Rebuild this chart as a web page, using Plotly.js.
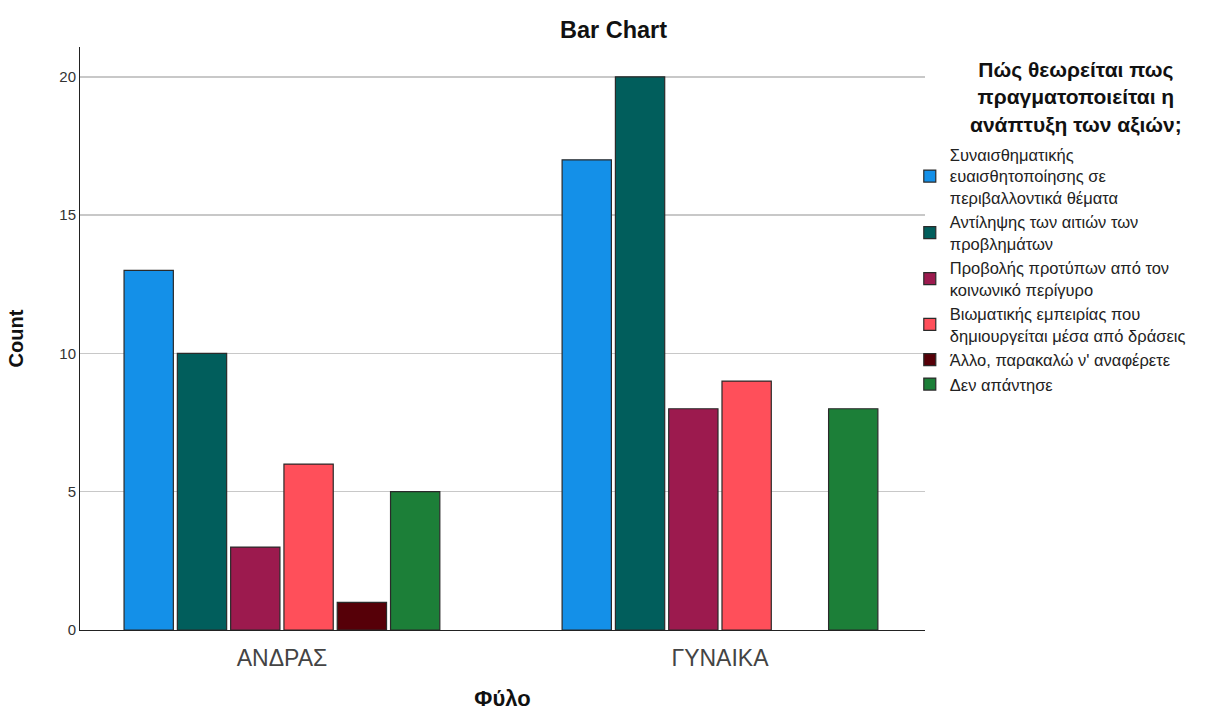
<!DOCTYPE html>
<html>
<head>
<meta charset="utf-8">
<script src="https://cdn.plot.ly/plotly-3.0.1.min.js"></script>
<style>html,body{margin:0;padding:0;background:#fff;}#chart{width:1227px;height:711px;}</style>
</head>
<body>
<div id="chart"></div>
<script>
const categories = ["ΑΝΔΡΑΣ", "ΓΥΝΑΙΚΑ"];
const legendTitle = "Πώς θεωρείται πως<br>πραγματοποιείται η<br>ανάπτυξη των αξιών;";
const seriesNames = [
  "Συναισθηματικής<br>ευαισθητοποίησης σε<br>περιβαλλοντικά θέματα",
  "Αντίληψης των αιτιών των<br>προβλημάτων",
  "Προβολής προτύπων από τον<br>κοινωνικό περίγυρο",
  "Βιωματικής εμπειρίας που<br>δημιουργείται μέσα από δράσεις",
  "Άλλο, παρακαλώ ν' αναφέρετε",
  "Δεν απάντησε"
];
const synaisthimatikis = [13, 17];
const antilipsis = [10, 20];
const provolis = [3, 8];
const viomatikis = [6, 9];
const allo = [1, null];
const denApantise = [5, 8];
const seriesValues = [synaisthimatikis, antilipsis, provolis, viomatikis, allo, denApantise];
const colors = ["#1490E8", "#015E5C", "#9C1A4E", "#FF4F5A", "#560008", "#1C7F38"];
const yTicks = [0, 5, 10, 15, 20];

const traces = seriesValues.map((vals, i) => ({
  type: "bar",
  x: categories,
  y: vals,
  name: seriesNames[i],
  marker: {color: colors[i], line: {color: "#2a2a2a", width: 1.2}},
  hoverinfo: "y+name"
}));

const layout = {
  width: 1227, height: 711,
  paper_bgcolor: "#fff", plot_bgcolor: "#fff",
  font: {family: "Liberation Sans, Arial, sans-serif", color: "#222"},
  margin: {l: 80, r: 302, t: 47, b: 81},
  title: {text: "<b>Bar Chart</b>", x: 0.5, xanchor: "center", y: 0.958, yanchor: "middle", font: {size: 23.5, color: "#111"}},
  barmode: "group",
  bargap: 0.27,
  bargroupgap: 0.075,
  xaxis: {
    type: "category",
    range: [-0.461, 1.468],
    showline: true, linecolor: "#222", linewidth: 1,
    showgrid: false, ticks: "",
    ticklabelstandoff: 7,
    tickfont: {size: 23, color: "#444"},
    title: {text: "<b>Φύλο</b>", font: {size: 22, color: "#111"}, standoff: 28}
  },
  yaxis: {
    range: [0, 21.08],
    tickvals: yTicks,
    showline: true, linecolor: "#222", linewidth: 1,
    showgrid: true, gridcolor: "#c8c8c8", gridwidth: 1.5,
    zeroline: false, ticks: "",
    tickfont: {size: 15, color: "#333"},
    title: {text: "<b>Count</b>", font: {size: 20, color: "#111"}, standoff: 30}
  },
  annotations: [{
    text: "<b>" + legendTitle + "</b>",
    xref: "paper", yref: "paper",
    x: 1.179, y: 0.985, xanchor: "center", yanchor: "top",
    align: "center", showarrow: false,
    font: {size: 21, color: "#111"}
  }],
  legend: {
    x: 0.982, xanchor: "left", y: 0.845, yanchor: "top",
    font: {size: 16.5, color: "#222"},
    tracegroupgap: 0,
    itemwidth: 30,
    bgcolor: "rgba(0,0,0,0)"
  },
  showlegend: true
};

Plotly.newPlot("chart", traces, layout, {displayModeBar: false, staticPlot: true});
</script>
</body>
</html>
